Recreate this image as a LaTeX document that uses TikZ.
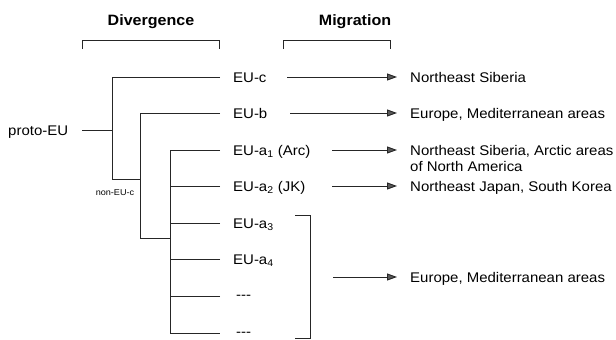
\documentclass[tikz,border=0pt]{standalone}
\usepackage{fontspec}
\setmainfont{Liberation Sans}[FakeStretch=1.07]
\usetikzlibrary{arrows.meta}
\begin{document}
\begin{tikzpicture}[x=1pt,y=-1pt,
  tree/.style={line width=0.9pt,black!85},
  lab/.style={anchor=base west,inner sep=0pt,font=\fontsize{14}{16}\selectfont},
  ttl/.style={anchor=base,inner sep=0pt,font=\fontsize{15}{18}\selectfont\bfseries},
  small/.style={inner sep=0pt,font=\fontsize{8.5}{10}\selectfont},
  arr/.style={line width=0.9pt,black!85,-{Triangle[length=10pt,width=7pt,fill=gray!70!black]}},
  brk/.style={line width=0.9pt,black!85}]
\useasboundingbox (0,0) rectangle (616,340);
% titles and brackets
\node[ttl] (tdiv) at (151,25) {Divergence};
\node[ttl] (tmig) at (355,25) {Migration};
\draw[brk] (82,49) -- (82,40) -- (219,40) -- (219,49);
\draw[brk] (283,49) -- (283,40) -- (390,40) -- (390,49);
% labels
\node[lab] (proto) at (8,135.5) {proto-EU};
\node[small] (nonc) at (115,193) {non-EU-c};
\node[lab] (lc) at (233,82.5) {EU-c};
\node[lab] (lb) at (233,118.5) {EU-b};
\node[lab] (la1) at (233,155.5) {EU-a\textsubscript{1} (Arc)};
\node[lab] (la2) at (233,191.5) {EU-a\textsubscript{2} (JK)};
\node[lab] (la3) at (233,228.5) {EU-a\textsubscript{3}};
\node[lab] (la4) at (233,264.5) {EU-a\textsubscript{4}};
\node[lab] (ld1) at (236,299) {-{}-{}-};
\node[lab] (ld2) at (236,336) {-{}-{}-};
% tree coordinates
\coordinate (ps) at (82,130);
\coordinate (r) at (112,130);
\coordinate (ec) at (220,77);
\coordinate (eb) at (220,113);
\coordinate (ea1) at (220,150);
\coordinate (ea2) at (220,186);
\coordinate (ea3) at (220,223);
\coordinate (ea4) at (220,259);
\coordinate (ed1) at (220,296);
\coordinate (ed2) at (220,333);
\coordinate (n1) at (112,179);
\coordinate (n1e) at (140,179);
\coordinate (n2) at (140,238);
\coordinate (n2e) at (170,238);
\draw[tree] (ps) -- (r);
\draw[tree] (ec) -| (n1) -- (n1e);
\draw[tree] (eb) -| (n2) -- (n2e);
\draw[tree] (ea1) -| (ed2 -| n2e) -- (ed2);
\draw[tree] (ea2) -- (ea2 -| n2e);
\draw[tree] (ea3) -- (ea3 -| n2e);
\draw[tree] (ea4) -- (ea4 -| n2e);
\draw[tree] (ed1) -- (ed1 -| n2e);
% right bracket
\draw[brk] (295,215) -- (310,215) -- (310,338) -- (295,338);
% destinations
\node[lab] (dc) at (410,82.5) {Northeast Siberia};
\node[lab] (db) at (410,118.5) {Europe, Mediterranean areas};
\node[lab] (da1) at (410,155.5) {Northeast Siberia, Arctic areas};
\node[lab] (da1b) at (410,171.5) {of North America};
\node[lab] (da2) at (410,191.5) {Northeast Japan, South Korea};
\node[lab] (dm) at (410,282.5) {Europe, Mediterranean areas};
% arrows
\coordinate (sc) at (287,77);   \coordinate (tc) at (397,77);
\coordinate (sb) at (290,113);  \coordinate (tb) at (397,113);
\coordinate (sa1) at (332,150); \coordinate (ta1) at (397,150);
\coordinate (sa2) at (332,186); \coordinate (ta2) at (397,186);
\coordinate (sm) at (333,277);  \coordinate (tm) at (397,277);
\draw[arr] (sc) -- (tc);
\draw[arr] (sb) -- (tb);
\draw[arr] (sa1) -- (ta1);
\draw[arr] (sa2) -- (ta2);
\draw[arr] (sm) -- (tm);
\end{tikzpicture}
\end{document}
